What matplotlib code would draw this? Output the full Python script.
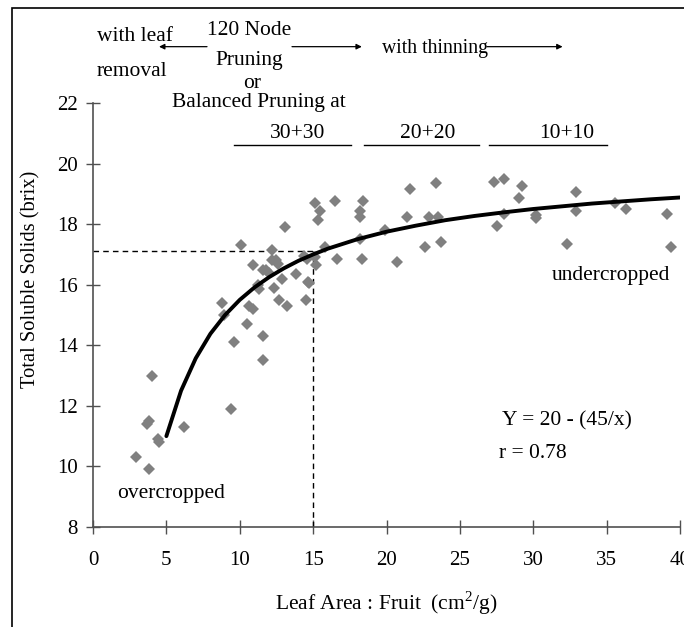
import matplotlib
matplotlib.use('Agg')
import matplotlib.pyplot as plt
from matplotlib.patches import Rectangle

plt.rcParams['font.family'] = ['Liberation Serif', 'DejaVu Serif']
plt.rcParams['mathtext.fontset'] = 'custom'
plt.rcParams['mathtext.rm'] = 'Liberation Serif'

# leaf area : fruit (cm2/g) vs total soluble solids (brix)
leaf_fruit = [2.9, 3.8, 3.7, 3.8, 4.0, 4.4, 4.5, 6.2,
              9.4, 9.6, 11.6, 11.6, 10.5, 8.9, 8.8, 10.6, 10.9,
              11.25, 11.3, 12.3, 12.65, 13.2, 12.9,
              11.6, 11.8, 12.0, 10.9, 12.2, 12.5, 12.6, 12.2, 10.1, 13.1,
              13.85, 14.65, 14.7, 14.5, 14.4, 14.6,
              15.1, 15.2, 15.8, 15.3, 15.5, 15.1, 16.5, 16.6,
              18.2, 18.2, 18.4, 18.2, 18.35, 19.9,
              21.6, 21.4, 20.7, 22.6, 22.9, 23.5, 23.4, 23.7,
              27.3, 28.0, 29.2, 29.0, 28.0, 27.5, 30.2, 30.2,
              32.9, 32.9, 32.3, 35.6, 36.3, 39.1, 39.4]
brix = [10.3, 9.9, 11.4, 11.5, 13.0, 10.9, 10.8, 11.3,
        11.9, 14.1, 13.5, 14.3, 14.7, 15.0, 15.4, 15.3, 15.2,
        16.0, 15.85, 15.9, 15.5, 15.3, 16.2,
        16.5, 16.5, 16.4, 16.65, 16.8, 16.8, 16.7, 17.15, 17.3, 17.9,
        16.35, 16.1, 16.05, 15.5, 16.95, 16.85,
        16.9, 16.65, 17.25, 18.15, 18.45, 18.7, 18.75, 16.85,
        18.45, 18.25, 18.75, 17.5, 16.85, 17.8,
        19.15, 18.25, 16.75, 17.25, 18.25, 18.25, 19.35, 17.4,
        19.4, 19.5, 19.25, 18.85, 18.35, 17.95, 18.3, 18.2,
        19.05, 18.45, 17.35, 18.7, 18.5, 18.35, 17.25]

# fitted curve Y = 20 - (45/x)
curve_x = [5, 6, 7, 8, 9, 10, 11, 12, 13, 14, 15, 16, 18, 20, 22, 24, 26, 28, 30, 32, 34, 36, 38, 40]
curve_y = [11.0, 12.5, 13.57, 14.38, 15.0, 15.5, 15.91, 16.25, 16.54, 16.79, 17.0, 17.19,
           17.5, 17.75, 17.95, 18.13, 18.27, 18.39, 18.5, 18.59, 18.68, 18.75, 18.82, 18.88]

# reference lines at x = 15
ref_x = 15
ref_y = 17.1

x_ticks = [0, 5, 10, 15, 20, 25, 30, 35, 40]
y_ticks = [8, 10, 12, 14, 16, 18, 20, 22]

FS = 15.5

fig = plt.figure(figsize=(6.84, 6.27), dpi=100)
ax = fig.add_axes([93 / 684, 1 - 527 / 627, 587 / 684, 424 / 627])

# outer frame (cropped on right and bottom)
fig.patches.append(Rectangle((12 / 684, -0.1), 1.5, 1 - 8 / 627 + 0.1,
                             transform=fig.transFigure, fill=False,
                             edgecolor='black', linewidth=1.2))

ax.plot([0, ref_x], [ref_y, ref_y], color='black', ls=(0, (4, 3)), lw=1)
ax.plot([ref_x, ref_x], [8, ref_y], color='black', ls=(0, (4, 3)), lw=1)
ax.plot(leaf_fruit, brix, 'D', ls='none', color='#808080', markersize=5.8, markeredgewidth=0)
ax.plot(curve_x, curve_y, color='black', lw=2.8, solid_capstyle='round')

ax.set_xlim(0, 40)
ax.set_ylim(8, 22)
ax.set_xticks(x_ticks)
ax.set_yticks(y_ticks)
for s in ['top', 'right']:
    ax.spines[s].set_visible(False)
for s in ['left', 'bottom']:
    ax.spines[s].set_color('#505050')
    ax.spines[s].set_linewidth(1.2)
ax.tick_params(axis='both', direction='inout', length=10, width=1, color='#505050', labelsize=15)
ax.tick_params(axis='x', pad=12)
ax.tick_params(axis='y', pad=6)

ax.set_xlabel('Leaf Area : Fruit  (cm$^2$/g)', fontsize=FS, labelpad=14)
ax.set_ylabel('Total Soluble Solids (brix)', fontsize=14.8, labelpad=12)
ax.yaxis.label.set_position((0, 0.583))

kw = dict(fontsize=FS, clip_on=False, va='center')
ax.text(0.27, 24.2, 'with leaf', ha='left', **kw)
ax.text(0.27, 23.05, 'removal', ha='left', **kw)
ax.text(10.63, 24.4, '120 Node', ha='center', **kw)
ax.text(10.63, 23.4, 'Pruning', ha='center', **kw)
ax.text(10.83, 22.65, 'or', ha='center', **kw)
ax.text(11.3, 22.0, 'Balanced Pruning at', ha='center', **kw)
ax.text(19.69, 23.8, 'with thinning', ha='left', fontsize=14.2, clip_on=False, va='center')

arrow = dict(arrowstyle='-|>', color='black', lw=0.9, mutation_scale=8, shrinkA=0, shrinkB=0)
ax.annotate('', xy=(4.5, 23.86), xytext=(7.77, 23.86), arrowprops=arrow, annotation_clip=False)
ax.annotate('', xy=(18.32, 23.86), xytext=(13.56, 23.86), arrowprops=arrow, annotation_clip=False)
ax.annotate('', xy=(32.0, 23.86), xytext=(26.84, 23.86), arrowprops=arrow, annotation_clip=False)

for lab, cx, x0, x1 in [('30+30', 13.96, 9.6, 17.57), ('20+20', 22.8, 18.46, 26.3), ('10+10', 32.3, 26.98, 35.0)]:
    ax.text(cx, 21.0, lab, ha='center', **kw)
    ax.plot([x0, x1], [20.62, 20.62], color='black', lw=1, clip_on=False)

ax.text(39.3, 16.32, 'undercropped', ha='right', **kw)
ax.text(1.63, 9.1, 'overcropped', ha='left', **kw)
ax.text(27.9, 11.5, 'Y = 20 - (45/x)', ha='left', **kw)
ax.text(27.7, 10.42, 'r = 0.78', ha='left', **kw)

fig.savefig('out.png', dpi=100)
